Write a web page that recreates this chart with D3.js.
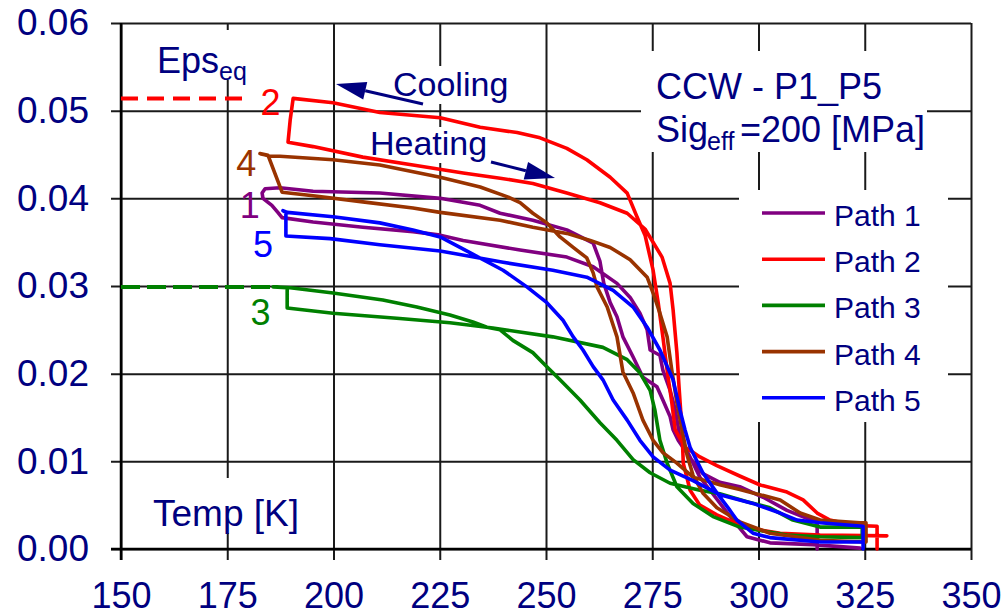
<!DOCTYPE html>
<html>
<head>
<meta charset="utf-8">
<script src="https://cdn.jsdelivr.net/npm/d3@7"></script>
<style>
  html, body { margin: 0; padding: 0; background: #fff; }
  svg { display: block; font-family: "Liberation Sans", Arial, sans-serif; }
</style>
</head>
<body>
<svg id="chart" width="1007" height="616"></svg>
<script>
// Axis ticks
const tempTicks = [150, 175, 200, 225, 250, 275, 300, 325, 350];
const epsTicks = [0, 0.01, 0.02, 0.03, 0.04, 0.05, 0.06];

// Series names and colours
const pathNames = ["Path 1", "Path 2", "Path 3", "Path 4", "Path 5"];
const pathColors = ["#800080", "#ff0000", "#008000", "#993300", "#0000ff"];

// Measured loops: [temperature K, equivalent strain]; cooling branch first, then heating
const path1 = [[313.8,0.0],[313.8,0.0031],[311.4,0.0035],[306.7,0.0044],[301.1,0.0059],[295.6,0.0071],[290.9,0.0076],[286.9,0.0086],[283.9,0.0104],[281.1,0.0124],[279.9,0.0136],[279.2,0.0151],[277.5,0.0170],[276.1,0.0185],[272.8,0.0196],[270.5,0.0219],[268.1,0.0242],[266.7,0.0265],[265.1,0.0281],[263.6,0.0303],[262.7,0.0328],[261.1,0.0349],[254.9,0.0364],[246.9,0.0375],[239.2,0.0383],[234.5,0.0392],[225.1,0.0400],[210.9,0.0406],[195.2,0.0408],[187.4,0.0412],[183.9,0.0411],[183.2,0.0406],[183.4,0.0400],[185.5,0.0392],[186.9,0.0384],[187.9,0.0378],
  [195.2,0.0373],[206.9,0.0367],[218.7,0.0362],[225.1,0.0358],[230.5,0.0352],[243.9,0.0341],[254.9,0.0333],[261.1,0.0322],[266.7,0.0303],[269.8,0.0287],[272.1,0.0269],[273.8,0.0250],[274.5,0.0227],[276.8,0.0221],[277.5,0.0204],[279.2,0.0181],[280.4,0.0159],[281.5,0.0128],[283.9,0.0105],[286.2,0.0082],[288.6,0.0067],[291.6,0.0048],[294.0,0.0033],[297.3,0.0014],[302.7,0.0007],[312.8,0.0005],[323.9,0.0001]];

const path2 = [[327.9,0.0],[327.9,0.0026],[322.2,0.0027],[316.8,0.0033],[313.8,0.0041],[310.5,0.0056],[306.7,0.0065],[300.4,0.0073],[295.7,0.0083],[290.2,0.0095],[286.2,0.0105],[284.4,0.0111],[282.7,0.0116],[280.4,0.0136],[279.6,0.0167],[278.5,0.0204],[277.5,0.0242],[276.4,0.0281],[275.2,0.0318],[273.3,0.0358],[271.4,0.0379],[269.1,0.0406],[265.1,0.0424],[259.6,0.0444],[254.9,0.0457],[248.6,0.0469],[243.2,0.0475],[234.5,0.0481],[225.1,0.0492],[210.9,0.0498],[199.9,0.0509],[190.5,0.0514],[189.8,0.0489],[189.3,0.0464],
  [195.2,0.0459],[206.9,0.0447],[218.7,0.0438],[230.5,0.0429],[239.2,0.0423],[246.9,0.0417],[254.9,0.0406],[262.7,0.0395],[269.1,0.0383],[273.3,0.0365],[277.3,0.0333],[279.2,0.0303],[279.9,0.0273],[280.8,0.0224],[281.3,0.0185],[282.0,0.0136],[282.3,0.0098],[283.9,0.0067],[286.2,0.0050],[290.2,0.0039],[294.0,0.0031],[298.7,0.0023],[305.1,0.0018],[314.5,0.0016],[330.2,0.0015]];

const path3 = [[324.4,0.0013],[324.4,0.0025],[314.5,0.0025],[308.1,0.0033],[302.7,0.0047],[297.3,0.0054],[290.9,0.0063],[286.2,0.0067],[279.2,0.0075],[274.5,0.0087],[270.5,0.0102],[266.7,0.0124],[262.7,0.0144],[258.0,0.0170],[253.3,0.0193],[250.2,0.0208],[246.9,0.0224],[242.2,0.0238],[239.2,0.0250],[236.1,0.0253],[232.8,0.0259],[227.4,0.0267],[219.6,0.0276],[211.6,0.0284],[199.9,0.0292],[189.8,0.0298],[185.8,0.0299],[189.1,0.0298],[189.1,0.0275],
  [199.9,0.0269],[215.6,0.0263],[227.4,0.0258],[237.5,0.0252],[251.6,0.0242],[263.4,0.0230],[269.1,0.0216],[272.1,0.0201],[274.5,0.0181],[275.6,0.0159],[276.8,0.0124],[278.5,0.0098],[280.8,0.0071],[284.6,0.0052],[289.3,0.0037],[295.6,0.0025],[306.7,0.0016],[314.5,0.0014],[324.4,0.0013]];

const path4 = [[325.3,0.0008],[325.3,0.0030],[323.9,0.0030],[314.5,0.0033],[309.8,0.0041],[305.1,0.0056],[298.7,0.0064],[295.6,0.0068],[291.1,0.0073],[284.6,0.0082],[280.8,0.0098],[277.5,0.0110],[275.2,0.0124],[272.8,0.0147],[270.5,0.0178],[268.1,0.0202],[266.7,0.0242],[264.4,0.0276],[262.0,0.0299],[261.1,0.0315],[259.6,0.0332],[256.4,0.0344],[253.3,0.0356],[250.2,0.0372],[246.9,0.0383],[243.9,0.0395],[240.8,0.0402],[234.5,0.0413],[225.1,0.0424],[210.9,0.0438],[199.9,0.0444],[187.4,0.0448],[185.1,0.0448],[182.7,0.0451],[184.6,0.0449],[187.9,0.0407],
  [195.2,0.0403],[206.9,0.0396],[218.7,0.0389],[225.1,0.0384],[239.2,0.0375],[246.9,0.0367],[254.9,0.0360],[260.4,0.0352],[265.1,0.0344],[269.8,0.0330],[273.8,0.0310],[275.2,0.0292],[276.8,0.0269],[278.5,0.0242],[279.6,0.0204],[280.8,0.0167],[282.0,0.0136],[283.2,0.0107],[284.6,0.0084],[286.9,0.0064],[290.2,0.0047],[295.6,0.0031],[302.7,0.0018],[314.5,0.0010],[325.3,0.0008]];

const path5 = [[324.6,0.0],[324.6,0.0026],[314.5,0.0030],[309.1,0.0033],[305.1,0.0041],[298.7,0.0052],[290.9,0.0062],[284.6,0.0078],[279.2,0.0090],[275.2,0.0105],[272.1,0.0124],[269.1,0.0147],[265.8,0.0170],[263.4,0.0193],[261.1,0.0208],[258.7,0.0227],[256.4,0.0242],[254.0,0.0261],[250.2,0.0281],[245.5,0.0299],[239.9,0.0318],[232.1,0.0338],[225.1,0.0356],[218.7,0.0364],[210.9,0.0372],[199.9,0.0379],[189.1,0.0384],[188.1,0.0386],[188.8,0.0384],[188.8,0.0357],
  [199.2,0.0354],[210.9,0.0347],[225.1,0.0340],[239.9,0.0327],[251.6,0.0318],[259.6,0.0310],[265.8,0.0295],[270.5,0.0276],[273.8,0.0253],[276.8,0.0227],[279.9,0.0193],[281.5,0.0159],[282.7,0.0136],[283.9,0.0116],[286.9,0.0087],[290.2,0.0064],[293.3,0.0044],[294.9,0.0033],[298.7,0.0018],[302.7,0.0013],[314.5,0.0008],[323.9,0.0008]];

// Reference strain levels drawn as dashed leaders: [T start, T end, strain]
const leaderPath2 = [150, 180, 0.0514];
const leaderPath3 = [150, 186, 0.0299];

// Loop number labels: [T, strain at baseline]
const loopLabelText = ["1", "2", "3", "4", "5"];
const loopLabelPos = [[180.3, 0.0378], [185.2, 0.0495], [182.8, 0.0255], [179.5, 0.0426], [183.4, 0.0333]];

const svg = d3.select("#chart");
const INK = "#000080";
const GRID = "#1a1a1a";

const x = d3.scaleLinear().domain([150, 350]).range([121, 971]);
const y = d3.scaleLinear().domain([0, 0.06]).range([549, 23]);

// Bottom axis with full-height grid lines and outside tick marks
const xAxis = svg.append("g")
  .attr("transform", "translate(0,560)")
  .call(d3.axisBottom(x).tickValues(tempTicks).tickSizeInner(-(560 - 23)).tickSizeOuter(0).tickPadding(22));
xAxis.select(".domain").remove();
xAxis.selectAll("line").attr("stroke", GRID).attr("stroke-width", 2);
xAxis.selectAll("text").attr("fill", INK).attr("font-size", 36).attr("font-family", "Liberation Sans, Arial, sans-serif");

// Left axis with full-width grid lines
const yAxis = svg.append("g")
  .attr("transform", "translate(111,0)")
  .call(d3.axisLeft(y).tickValues(epsTicks).tickFormat(d3.format(".2f")).tickSizeInner(-(971 - 111)).tickSizeOuter(0).tickPadding(22));
yAxis.select(".domain").remove();
yAxis.selectAll("line").attr("stroke", GRID).attr("stroke-width", 2);
yAxis.selectAll("text").attr("fill", INK).attr("font-size", 37)
  .attr("font-family", "Liberation Sans, Arial, sans-serif")
  .attr("dy", d => d === 0.06 ? "0.3em" : "0.32em");

// Heavier frame on the bottom and left edges
svg.append("line").attr("x1", 111).attr("x2", 971).attr("y1", y(0)).attr("y2", y(0)).attr("stroke", "#000").attr("stroke-width", 2.5);
svg.append("line").attr("x1", x(150)).attr("x2", x(150)).attr("y1", 23).attr("y2", 560).attr("stroke", "#000").attr("stroke-width", 2.5);

// Opaque backgrounds behind the text blocks
const boxes = [
  [641, 51, 286, 101],   // title block
  [739, 190, 209, 232],  // legend
  [145, 478, 170, 55],   // x-axis caption
  [148, 30, 110, 50],    // y-axis caption
  [388, 66, 124, 38],    // cooling note
  [365, 127, 126, 36]    // heating note
];
svg.append("g").selectAll("rect").data(boxes).join("rect")
  .attr("x", d => d[0]).attr("y", d => d[1]).attr("width", d => d[2]).attr("height", d => d[3])
  .attr("fill", "#fff");

// Dashed strain leaders
svg.append("line")
  .attr("x1", x(leaderPath2[0])).attr("x2", x(leaderPath2[1]))
  .attr("y1", y(leaderPath2[2])).attr("y2", y(leaderPath2[2]))
  .attr("stroke", pathColors[1]).attr("stroke-width", 4).attr("stroke-dasharray", "17,9");
svg.append("line")
  .attr("x1", x(leaderPath3[0])).attr("x2", x(leaderPath3[1]))
  .attr("y1", y(leaderPath3[2])).attr("y2", y(leaderPath3[2]))
  .attr("stroke", pathColors[2]).attr("stroke-width", 4).attr("stroke-dasharray", "19,7");

// Hysteresis loops
const line = d3.line().x(d => x(d[0])).y(d => y(d[1]));
const loops = [path1, path2, path3, path4, path5];
svg.append("g").selectAll("path").data(loops).join("path")
  .attr("d", line)
  .attr("fill", "none")
  .attr("stroke", (d, i) => pathColors[i])
  .attr("stroke-width", 3.6)
  .attr("stroke-linejoin", "round")
  .attr("stroke-linecap", "round");

// Loop numbers
svg.append("g").selectAll("text").data(loopLabelText).join("text")
  .attr("x", (d, i) => x(loopLabelPos[i][0]))
  .attr("y", (d, i) => y(loopLabelPos[i][1]))
  .attr("text-anchor", "middle")
  .attr("font-size", 36)
  .attr("fill", (d, i) => pathColors[i])
  .text(d => d);

// Direction arrows
function arrow(x1, y1, x2, y2) {
  const a = Math.atan2(y2 - y1, x2 - x1);
  const len = 30, hw = 9;
  const bx = x2 - len * Math.cos(a), by = y2 - len * Math.sin(a);
  svg.append("line").attr("x1", x1).attr("y1", y1).attr("x2", bx).attr("y2", by)
    .attr("stroke", INK).attr("stroke-width", 3);
  const pts = [[x2, y2],
    [bx + hw * Math.sin(a), by - hw * Math.cos(a)],
    [bx - hw * Math.sin(a), by + hw * Math.cos(a)]];
  svg.append("polygon").attr("points", pts.map(p => p.join(",")).join(" ")).attr("fill", INK);
}
arrow(423, 104, 336, 84);
arrow(491, 162, 555, 178);

// Text annotations
function label(tx, ty, str, size) {
  return svg.append("text").attr("x", tx).attr("y", ty).attr("font-size", size).attr("fill", INK).text(str);
}
label(393, 96, "Cooling", 34);
label(370, 155, "Heating", 34);
label(153, 526, "Temp [K]", 37);
label(157, 73, "Eps", 36);
label(219, 80, "eq", 25);
label(656, 99, "CCW - P1_P5", 36);
label(656, 142, "Sig", 36);
label(707, 150, "eff", 25);
label(740, 142, "=200 [MPa]", 36);

// Legend
const legend = svg.append("g");
pathNames.forEach((name, i) => {
  const ly = 213 + i * 46.2;
  legend.append("line").attr("x1", 762).attr("x2", 825).attr("y1", ly).attr("y2", ly)
    .attr("stroke", pathColors[i]).attr("stroke-width", 3.6);
  legend.append("text").attr("x", 834).attr("y", ly + 13).attr("font-size", 30).attr("fill", INK).text(name);
});
</script>
</body>
</html>
